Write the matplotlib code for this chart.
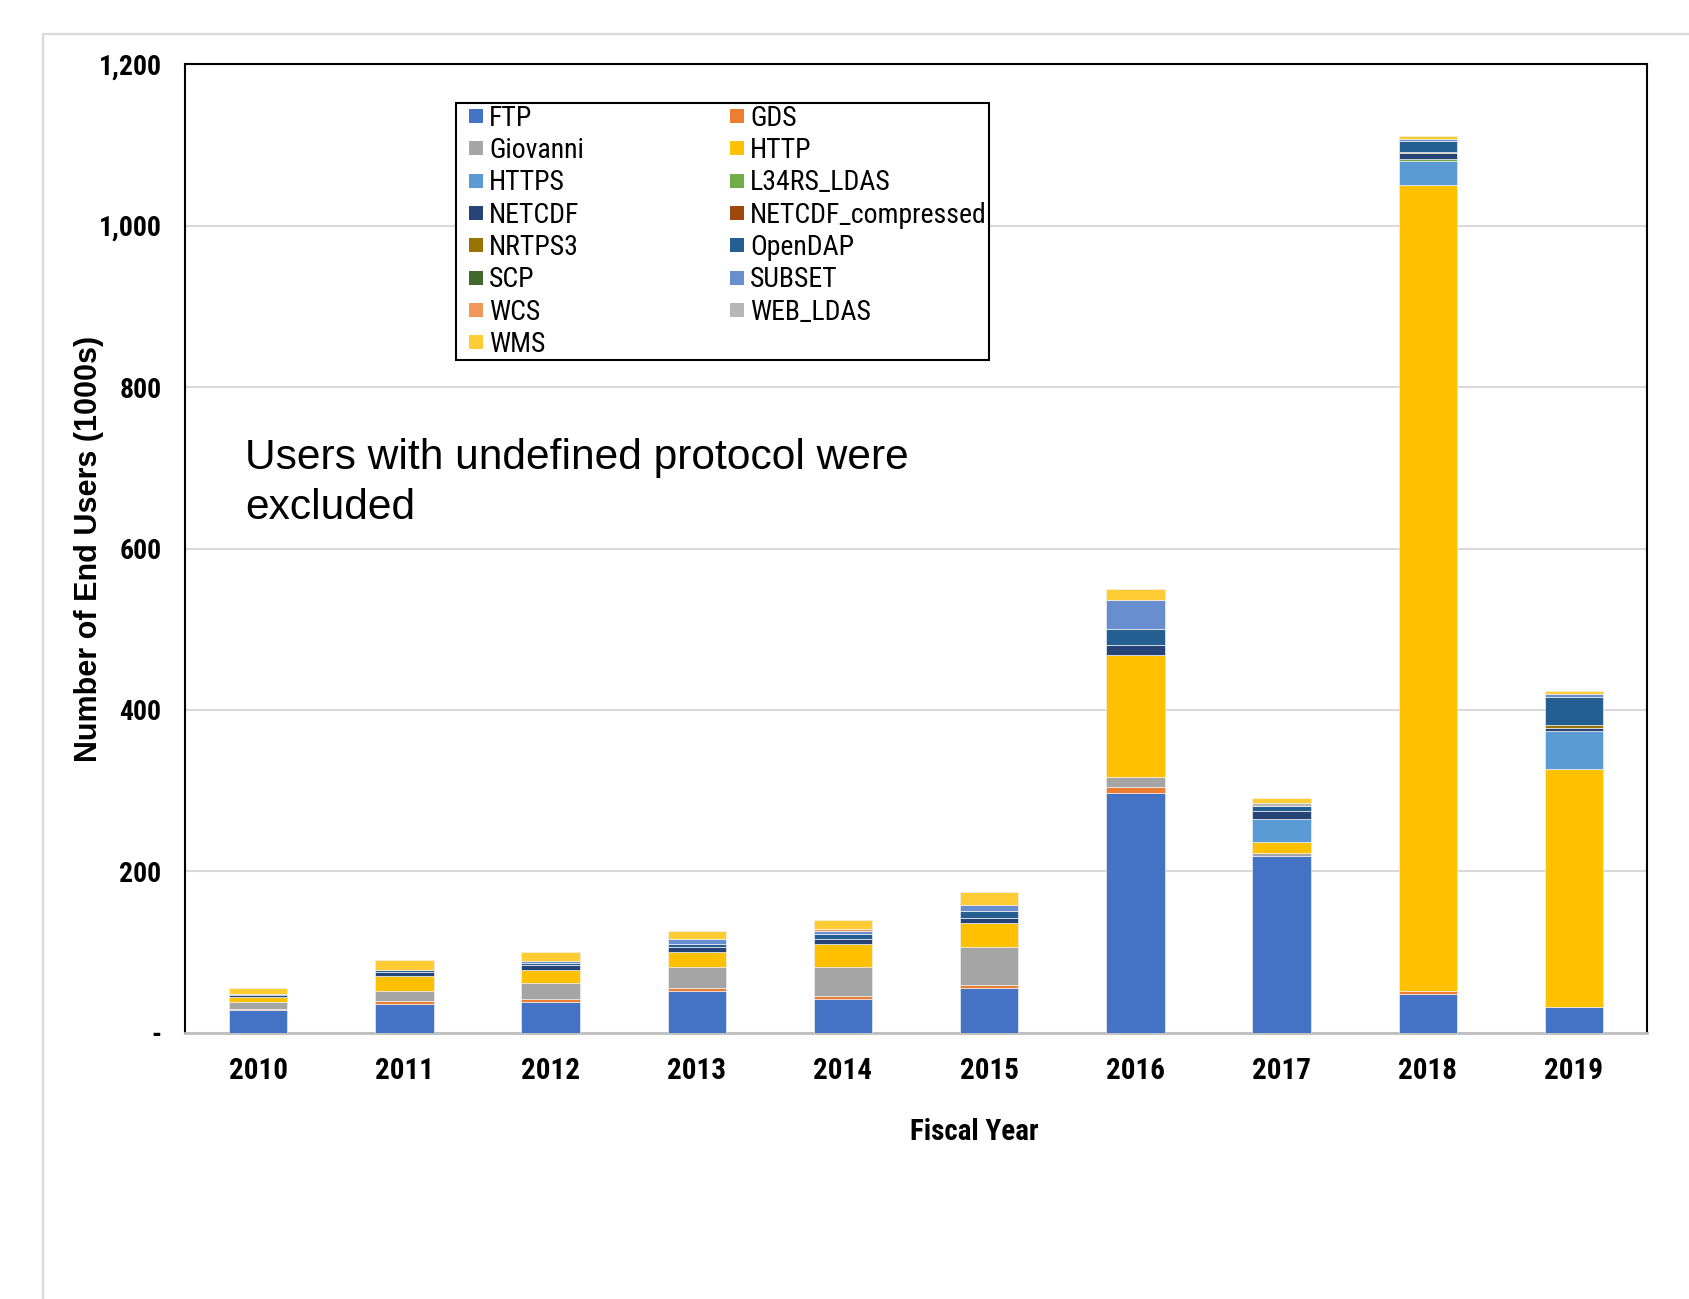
import numpy as np
import matplotlib
matplotlib.use("Agg")
import matplotlib.pyplot as plt
from matplotlib.patches import Rectangle
from matplotlib.lines import Line2D

# fiscal years on the x axis
years = ["2010", "2011", "2012", "2013", "2014", "2015", "2016", "2017", "2018", "2019"]

# end users per protocol, thousands
ftp        = [28.9, 35.6, 38.8, 52.1, 42.5, 55.4, 297.5, 219.4, 48.3, 32.2]
gds        = [0.8, 3.7, 3.7, 3.3, 3.4, 3.7, 6.6, 0.0, 3.3, 0.0]
giovanni   = [9.1, 12.8, 19.1, 26.0, 35.5, 47.9, 12.4, 3.3, 0.0, 0.0]
http       = [6.2, 18.9, 16.5, 19.4, 28.6, 29.0, 152.1, 13.2, 999.2, 294.7]
https      = [0.0, 0.0, 0.0, 0.0, 0.0, 0.0, 0.0, 28.9, 29.3, 47.5]
l34rs_ldas = [0.0, 0.0, 0.0, 0.0, 0.0, 0.0, 0.0, 0.0, 2.9, 0.0]
netcdf     = [2.0, 4.5, 6.6, 6.2, 6.5, 6.2, 12.4, 9.5, 6.6, 3.3]
netcdf_cmp = [0.0, 0.0, 0.0, 0.0, 0.0, 0.0, 0.0, 0.0, 0.0, 0.0]
nrtps3     = [0.0, 0.0, 0.0, 0.0, 0.0, 0.0, 0.0, 0.0, 1.5, 3.7]
opendap    = [1.7, 2.0, 2.5, 3.7, 6.6, 9.4, 19.8, 7.0, 13.3, 35.1]
scp        = [0.0, 0.0, 0.0, 0.0, 0.0, 0.0, 0.0, 0.0, 0.0, 0.0]
subset     = [0.0, 1.0, 1.7, 5.8, 3.3, 7.1, 35.6, 0.0, 2.9, 3.3]
wcs        = [0.0, 0.0, 0.0, 0.0, 2.9, 0.0, 0.0, 0.0, 0.0, 0.0]
web_ldas   = [0.0, 0.0, 0.0, 0.0, 0.0, 0.0, 0.0, 2.9, 0.0, 0.0]
wms        = [7.1, 12.4, 11.9, 9.9, 10.4, 16.1, 13.2, 6.6, 4.1, 3.7]

protocols = ["FTP", "GDS", "Giovanni", "HTTP", "HTTPS", "L34RS_LDAS", "NETCDF",
             "NETCDF_compressed", "NRTPS3", "OpenDAP", "SCP", "SUBSET", "WCS",
             "WEB_LDAS", "WMS"]
series = [ftp, gds, giovanni, http, https, l34rs_ldas, netcdf, netcdf_cmp,
          nrtps3, opendap, scp, subset, wcs, web_ldas, wms]
colors = ["#4472C4", "#ED7D31", "#A5A5A5", "#FFC000", "#5B9BD5", "#70AD47",
          "#264478", "#9E480E", "#997300", "#255E91", "#43682B", "#698ED0",
          "#F1975A", "#B7B7B7", "#FFCD33"]

yticks = [0, 200, 400, 600, 800, 1000, 1200]
ytick_labels = ["-", "200", "400", "600", "800", "1,000", "1,200"]

narrow = ["Arial Narrow", "Roboto Condensed", "PT Sans Narrow", "Liberation Sans"]
arial = ["Liberation Sans", "DejaVu Sans"]

fig = plt.figure(figsize=(16.9, 12.99), dpi=100)
ax = fig.add_axes([0.1095, 0.2048, 0.8651, 0.7459])

# light chart-area border
fig.add_artist(Rectangle((0.0254, -0.2), 1.2, 0.2 + 0.9738, transform=fig.transFigure,
                         fill=False, ec="#d9d9d9", lw=1.6, clip_on=False))

x = np.arange(len(years))
bottom = np.zeros(len(years))
for name, vals, col in zip(protocols, series, colors):
    vals = np.array(vals)
    ax.bar(x, vals, width=0.4, bottom=bottom, color=col, label=name,
           edgecolor="#eeeeee", linewidth=0.5, zorder=3)
    bottom += vals

ax.set_xlim(-0.5, len(years) - 0.5)
ax.set_ylim(0, 1200)
ax.set_yticks(yticks)
ax.set_yticklabels(ytick_labels)
ax.set_xticks(x)
ax.set_xticklabels(years)
ax.tick_params(axis="both", length=0)
ax.tick_params(axis="y", pad=17)
ax.tick_params(axis="x", pad=17)
for lbl in ax.get_yticklabels():
    lbl.set_fontfamily(narrow)
    lbl.set_fontweight("bold")
    lbl.set_fontsize(20)
for lbl in ax.get_xticklabels():
    lbl.set_fontfamily(narrow)
    lbl.set_fontweight("bold")
    lbl.set_fontsize(21)

ax.grid(axis="y", color="#d9d9d9", lw=1.5, zorder=0)
for side in ["left", "top", "right"]:
    ax.spines[side].set_color("black")
    ax.spines[side].set_linewidth(1.5)
ax.spines["bottom"].set_color("#bfbfbf")
ax.spines["bottom"].set_linewidth(2)

ax.set_xlabel("Fiscal Year", fontfamily=narrow, fontweight="bold", fontsize=21, labelpad=24)
ax.xaxis.label.set_x(0.540)
ax.set_ylabel("Number of End Users (1000s)", fontfamily=arial, fontweight="bold",
              fontsize=22)
ax.yaxis.set_label_coords(-0.0553, 0.5)

ax.text(0.041, 0.614, "Users with undefined protocol were\nexcluded", transform=ax.transAxes,
        fontfamily=arial, fontsize=30.6, va="top", ha="left", linespacing=1.33)

# legend laid out row by row in two columns, small square swatches
swatches = [Line2D([], [], ls="none", marker="s", markersize=9.5, markerfacecolor=c,
                   markeredgewidth=0) for c in colors]
order = list(range(0, len(protocols), 2)) + list(range(1, len(protocols), 2))
leg = ax.legend([swatches[i] for i in order], [protocols[i] for i in order], ncol=2,
                loc="upper left", bbox_to_anchor=(0.1854, 0.9598), borderaxespad=0,
                prop={"family": narrow, "size": 20}, frameon=True, fancybox=False,
                edgecolor="black", framealpha=1, handlelength=1.3,
                handletextpad=-0.18, labelspacing=0.19, columnspacing=4.85, borderpad=0.07)
leg.get_frame().set_linewidth(1.5)
leg.set_zorder(5)

fig.savefig("out.png", dpi=100)
